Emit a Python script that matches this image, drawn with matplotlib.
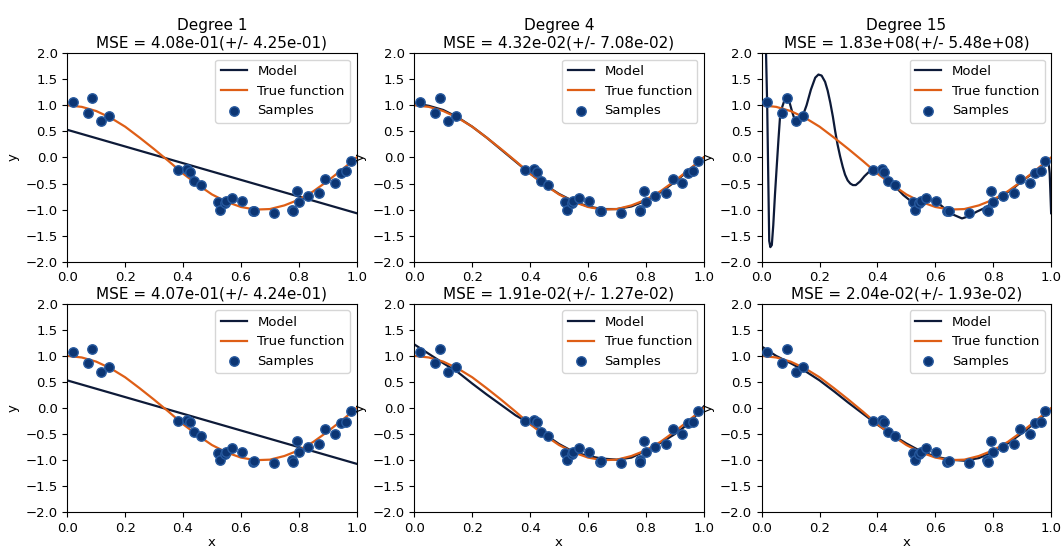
import numpy as np
import matplotlib.pyplot as plt

# samples
x_samples = [0.020, 0.071, 0.087, 0.118, 0.143, 0.383, 0.415, 0.424, 0.438, 0.462,
             0.522, 0.529, 0.545, 0.549, 0.568, 0.603, 0.640, 0.646, 0.715, 0.778,
             0.781, 0.792, 0.799, 0.833, 0.870, 0.892, 0.926, 0.945, 0.964, 0.979]
y_samples = [1.07, 0.86, 1.14, 0.70, 0.79, -0.25, -0.22, -0.27, -0.46, -0.53,
             -0.86, -1.00, -0.88, -0.84, -0.77, -0.84, -1.03, -1.02, -1.06, -1.00,
             -1.03, -0.64, -0.85, -0.74, -0.69, -0.41, -0.49, -0.29, -0.26, -0.06]

# curves read at steps of 0.05
x_grid = [0.0, 0.05, 0.1, 0.15, 0.2, 0.25, 0.3, 0.35, 0.4, 0.45, 0.5,
          0.55, 0.6, 0.65, 0.7, 0.75, 0.8, 0.85, 0.9, 0.95, 1.0]
y_true = [1.0, 0.97, 0.89, 0.76, 0.59, 0.38, 0.16, -0.07, -0.31, -0.52, -0.71,
          -0.85, -0.95, -1.0, -0.99, -0.92, -0.81, -0.65, -0.45, -0.23, 0.0]

x_deg1 = [0.0, 1.0]
y_deg1_top = [0.53, -1.07]
y_deg1_bot = [0.53, -1.07]

y_deg4_top = [1.04, 0.99, 0.91, 0.77, 0.59, 0.38, 0.15, -0.08, -0.31, -0.52, -0.70,
              -0.84, -0.94, -0.99, -0.99, -0.94, -0.83, -0.67, -0.47, -0.24, 0.0]
y_deg4_bot = [1.22, 1.04, 0.86, 0.69, 0.47, 0.26, 0.06, -0.14, -0.30, -0.50, -0.69,
              -0.84, -0.92, -0.97, -0.99, -0.95, -0.82, -0.67, -0.50, -0.29, 0.03]
y_deg15_bot = [1.18, 1.0, 0.86, 0.71, 0.53, 0.32, 0.10, -0.11, -0.32, -0.51, -0.68,
               -0.83, -0.93, -0.99, -1.01, -0.96, -0.84, -0.68, -0.48, -0.26, -0.03]

# the overfitted degree 15 curve, read with uneven steps
x_deg15_top = [0.010, 0.015, 0.019, 0.023, 0.026, 0.030, 0.035, 0.040, 0.046, 0.052,
               0.058, 0.063, 0.071, 0.080, 0.087, 0.095, 0.105, 0.113, 0.120, 0.130,
               0.142, 0.155, 0.170, 0.185, 0.196, 0.207, 0.219, 0.228, 0.237, 0.246,
               0.254, 0.262, 0.271, 0.280, 0.288, 0.297, 0.306, 0.315, 0.325, 0.340,
               0.355, 0.370, 0.385, 0.400, 0.415, 0.432, 0.455, 0.489, 0.518, 0.547,
               0.570, 0.605, 0.634, 0.663, 0.692, 0.714, 0.743, 0.778, 0.806, 0.835,
               0.870, 0.904, 0.939, 0.967, 0.982, 0.990, 0.995, 1.0]
y_deg15_top = [3.5, 2.0, 1.0, -0.5, -1.6, -1.72, -1.68, -1.3, -0.7, -0.17,
               0.35, 0.75, 0.97, 1.12, 1.15, 1.08, 0.88, 0.74, 0.70, 0.72,
               0.80, 1.00, 1.30, 1.53, 1.59, 1.57, 1.45, 1.28, 1.05, 0.78,
               0.50, 0.25, 0.02, -0.18, -0.33, -0.44, -0.50, -0.53, -0.53, -0.46,
               -0.36, -0.28, -0.24, -0.23, -0.28, -0.40, -0.52, -0.72, -0.85, -0.82,
               -0.79, -0.85, -0.99, -1.10, -1.17, -1.13, -1.04, -0.95, -0.81, -0.72,
               -0.59, -0.43, -0.30, -0.17, -0.06, -0.03, -0.30, -1.07]

titles = ["Degree 1\nMSE = 4.08e-01(+/- 4.25e-01)",
          "Degree 4\nMSE = 4.32e-02(+/- 7.08e-02)",
          "Degree 15\nMSE = 1.83e+08(+/- 5.48e+08)",
          "MSE = 4.07e-01(+/- 4.24e-01)",
          "MSE = 1.91e-02(+/- 1.27e-02)",
          "MSE = 2.04e-02(+/- 1.93e-02)"]

models = [(x_deg1, y_deg1_top), (x_grid, y_deg4_top), (x_deg15_top, y_deg15_top),
          (x_deg1, y_deg1_bot), (x_grid, y_deg4_bot), (x_grid, y_deg15_bot)]

model_col = '#0d1a38'
true_col = '#de5e16'
samp_face = '#0c3573'
samp_edge = '#27599e'

fig = plt.figure(figsize=(10.61, 5.48), dpi=100)
lefts = [0.0634, 0.3905, 0.7179]
bottoms = [0.5224, 0.0651]
w, h = 0.2728, 0.3806

for i in range(6):
    r, c = divmod(i, 3)
    ax = fig.add_axes([lefts[c], bottoms[r], w, h])
    mx, my = models[i]
    ax.plot(mx, my, color=model_col, lw=1.6, label="Model")
    ax.plot(x_grid, y_true, color=true_col, lw=1.6, label="True function")
    ax.scatter(x_samples, y_samples, s=46, color=samp_face, edgecolor=samp_edge,
               linewidth=1, label="Samples", zorder=3)
    ax.set_xlim(0, 1)
    ax.set_ylim(-2, 2)
    ax.set_xticks(np.arange(0, 1.01, 0.2))
    ax.set_yticks(np.arange(-2, 2.01, 0.5))
    ax.tick_params(labelsize=9.5)
    ax.set_ylabel("y", fontsize=9.5)
    if r == 1:
        ax.set_xlabel("x", fontsize=9.5, labelpad=1)
    ax.set_title(titles[i], fontsize=11, pad=4)
    ax.legend(loc="upper right", fontsize=9.5)

plt.savefig("out.png", dpi=100)
